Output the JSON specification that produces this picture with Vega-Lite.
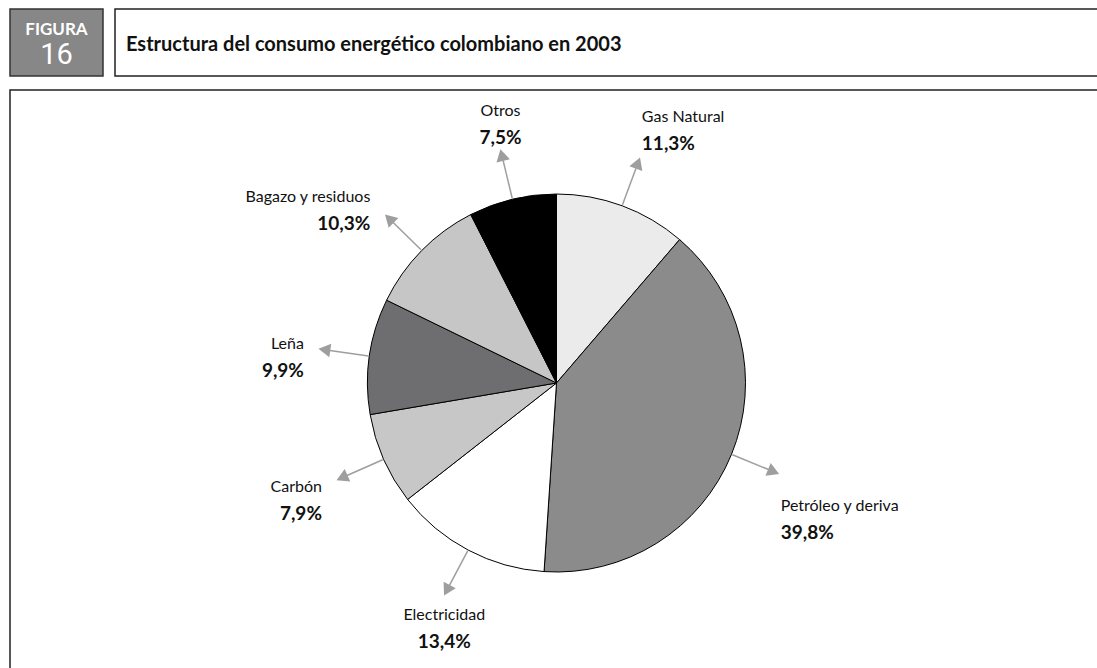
{
  "$schema": "https://vega.github.io/schema/vega-lite/v6.json",
  "padding": {"left": 9, "top": 8, "right": 0, "bottom": 0},
  "autosize": {"type": "pad"},
  "background": "white",
  "config": {
    "view": {"stroke": "#222222", "strokeWidth": 1.5},
    "font": "Lato, sans-serif"
  },
  "datasets": {
    "energia": [
      {"i": 1, "name": "Gas Natural", "pct": 11.3},
      {"i": 2, "name": "Petróleo y deriva", "pct": 39.8},
      {"i": 3, "name": "Electricidad", "pct": 13.4},
      {"i": 4, "name": "Carbón", "pct": 7.9},
      {"i": 5, "name": "Leña", "pct": 9.9},
      {"i": 6, "name": "Bagazo y residuos", "pct": 10.3},
      {"i": 7, "name": "Otros", "pct": 7.5}
    ]
  },
  "spacing": 12,
  "vconcat": [
    {
      "spacing": 10,
      "hconcat": [
        {
          "width": 93,
          "height": 67,
          "view": {"fill": "#878787", "stroke": "#333333", "strokeWidth": 1.5},
          "layer": [
            {
              "data": {"values": [{"t": "FIGURA"}]},
              "mark": {"type": "text", "x": 46.5, "y": 26, "align": "center", "baseline": "alphabetic", "fontSize": 17, "fontWeight": "bold", "color": "#ffffff", "font": "Lato, sans-serif"},
              "encoding": {"text": {"field": "t"}}
            },
            {
              "data": {"values": [{"t": "16"}]},
              "mark": {"type": "text", "x": 46.5, "y": 55, "align": "center", "baseline": "alphabetic", "fontSize": 29, "color": "#ffffff", "font": "Roboto, sans-serif"},
              "encoding": {"text": {"field": "t"}}
            }
          ]
        },
        {
          "width": 1000,
          "height": 67,
          "view": {"fill": "#ffffff", "stroke": "#222222", "strokeWidth": 1.5},
          "data": {"values": [{"t": "Estructura del consumo energético colombiano en 2003"}]},
          "mark": {"type": "text", "x": 11, "y": 42, "align": "left", "baseline": "alphabetic", "fontSize": 20, "fontWeight": "bold", "color": "#111111"},
          "encoding": {"text": {"field": "t"}}
        }
      ]
    },
    {
      "width": 1100,
      "height": 590,
      "view": {"fill": "#ffffff", "stroke": "#222222", "strokeWidth": 1.5},
      "data": {"name": "energia"},
      "transform": [
        {"window": [{"op": "sum", "field": "pct", "as": "cum"}], "sort": [{"field": "i"}], "frame": [null, 0]},
        {"joinaggregate": [{"op": "sum", "field": "pct", "as": "total"}]},
        {"calculate": "2*PI*(datum.cum - datum.pct/2)/datum.total", "as": "mid"},
        {"calculate": "datum.mid*180/PI", "as": "deg"},
        {"calculate": "sin(datum.mid)", "as": "sx"},
        {"calculate": "cos(datum.mid)", "as": "cy"},
        {"calculate": "190*datum.sx", "as": "x0"},
        {"calculate": "190*datum.cy", "as": "y0"},
        {"calculate": "229*datum.sx", "as": "x1"},
        {"calculate": "229*datum.cy", "as": "y1"},
        {"calculate": "234.5*datum.sx", "as": "xa"},
        {"calculate": "234.5*datum.cy", "as": "ya"},
        {"calculate": "datum.sx > 0.3 ? 'L' : (datum.sx < -0.6 ? 'R' : 'C')", "as": "side"},
        {"calculate": "240*datum.sx + (datum.side == 'R' ? -15 : (datum.side == 'L' ? 2 : 0))", "as": "nx"},
        {"calculate": "240*datum.cy - (datum.side == 'L' ? 16 - 55*datum.cy : (datum.side == 'R' ? 3 - 22*datum.cy : -3 - 32*datum.cy))", "as": "ny"},
        {"calculate": "datum.ny - 28", "as": "py"},
        {"calculate": "replace(format(datum.pct, '.1f'), '.', ',') + '%'", "as": "plabel"}
      ],
      "layer": [
        {
          "mark": {"type": "arc", "outerRadius": 189, "stroke": "#000000", "strokeWidth": 1},
          "encoding": {
            "theta": {"field": "pct", "type": "quantitative", "stack": true},
            "order": {"field": "i", "type": "quantitative"},
            "color": {
              "field": "name", "type": "nominal", "legend": null,
              "scale": {
                "domain": ["Gas Natural", "Petróleo y deriva", "Electricidad", "Carbón", "Leña", "Bagazo y residuos", "Otros"],
                "range": ["#ebebeb", "#8b8b8c", "#ffffff", "#c7c7c8", "#6e6e70", "#c6c6c7", "#000000"]
              }
            },
            "x": {"datum": 0, "type": "quantitative", "scale": {"domain": [-546.5, 553.5], "nice": false, "zero": false}, "axis": null},
            "y": {"datum": 0, "type": "quantitative", "scale": {"domain": [-297, 293], "nice": false, "zero": false}, "axis": null}
          }
        },
        {
          "mark": {"type": "rule", "color": "#9e9e9e", "strokeWidth": 1.5},
          "encoding": {
            "x": {"field": "x0", "type": "quantitative"},
            "y": {"field": "y0", "type": "quantitative"},
            "x2": {"field": "x1"},
            "y2": {"field": "y1"}
          }
        },
        {
          "mark": {"type": "point", "shape": "triangle-up", "filled": true, "size": 190, "color": "#9e9e9e", "opacity": 1},
          "encoding": {
            "x": {"field": "xa", "type": "quantitative"},
            "y": {"field": "ya", "type": "quantitative"},
            "angle": {"field": "deg", "type": "quantitative", "scale": null}
          }
        },
        {
          "transform": [{"filter": "datum.side == 'L'"}],
          "mark": {"type": "text", "align": "left", "baseline": "alphabetic", "fontSize": 16, "color": "#111111"},
          "encoding": {"x": {"field": "nx", "type": "quantitative"}, "y": {"field": "ny", "type": "quantitative"}, "text": {"field": "name"}}
        },
        {
          "transform": [{"filter": "datum.side == 'L'"}],
          "mark": {"type": "text", "align": "left", "baseline": "alphabetic", "fontSize": 19, "fontWeight": "bold", "color": "#111111"},
          "encoding": {"x": {"field": "nx", "type": "quantitative"}, "y": {"field": "py", "type": "quantitative"}, "text": {"field": "plabel"}}
        },
        {
          "transform": [{"filter": "datum.side == 'R'"}],
          "mark": {"type": "text", "align": "right", "baseline": "alphabetic", "fontSize": 16, "color": "#111111"},
          "encoding": {"x": {"field": "nx", "type": "quantitative"}, "y": {"field": "ny", "type": "quantitative"}, "text": {"field": "name"}}
        },
        {
          "transform": [{"filter": "datum.side == 'R'"}],
          "mark": {"type": "text", "align": "right", "baseline": "alphabetic", "fontSize": 19, "fontWeight": "bold", "color": "#111111"},
          "encoding": {"x": {"field": "nx", "type": "quantitative"}, "y": {"field": "py", "type": "quantitative"}, "text": {"field": "plabel"}}
        },
        {
          "transform": [{"filter": "datum.side == 'C'"}],
          "mark": {"type": "text", "align": "center", "baseline": "alphabetic", "fontSize": 16, "color": "#111111"},
          "encoding": {"x": {"field": "nx", "type": "quantitative"}, "y": {"field": "ny", "type": "quantitative"}, "text": {"field": "name"}}
        },
        {
          "transform": [{"filter": "datum.side == 'C'"}],
          "mark": {"type": "text", "align": "center", "baseline": "alphabetic", "fontSize": 19, "fontWeight": "bold", "color": "#111111"},
          "encoding": {"x": {"field": "nx", "type": "quantitative"}, "y": {"field": "py", "type": "quantitative"}, "text": {"field": "plabel"}}
        }
      ]
    }
  ]
}
